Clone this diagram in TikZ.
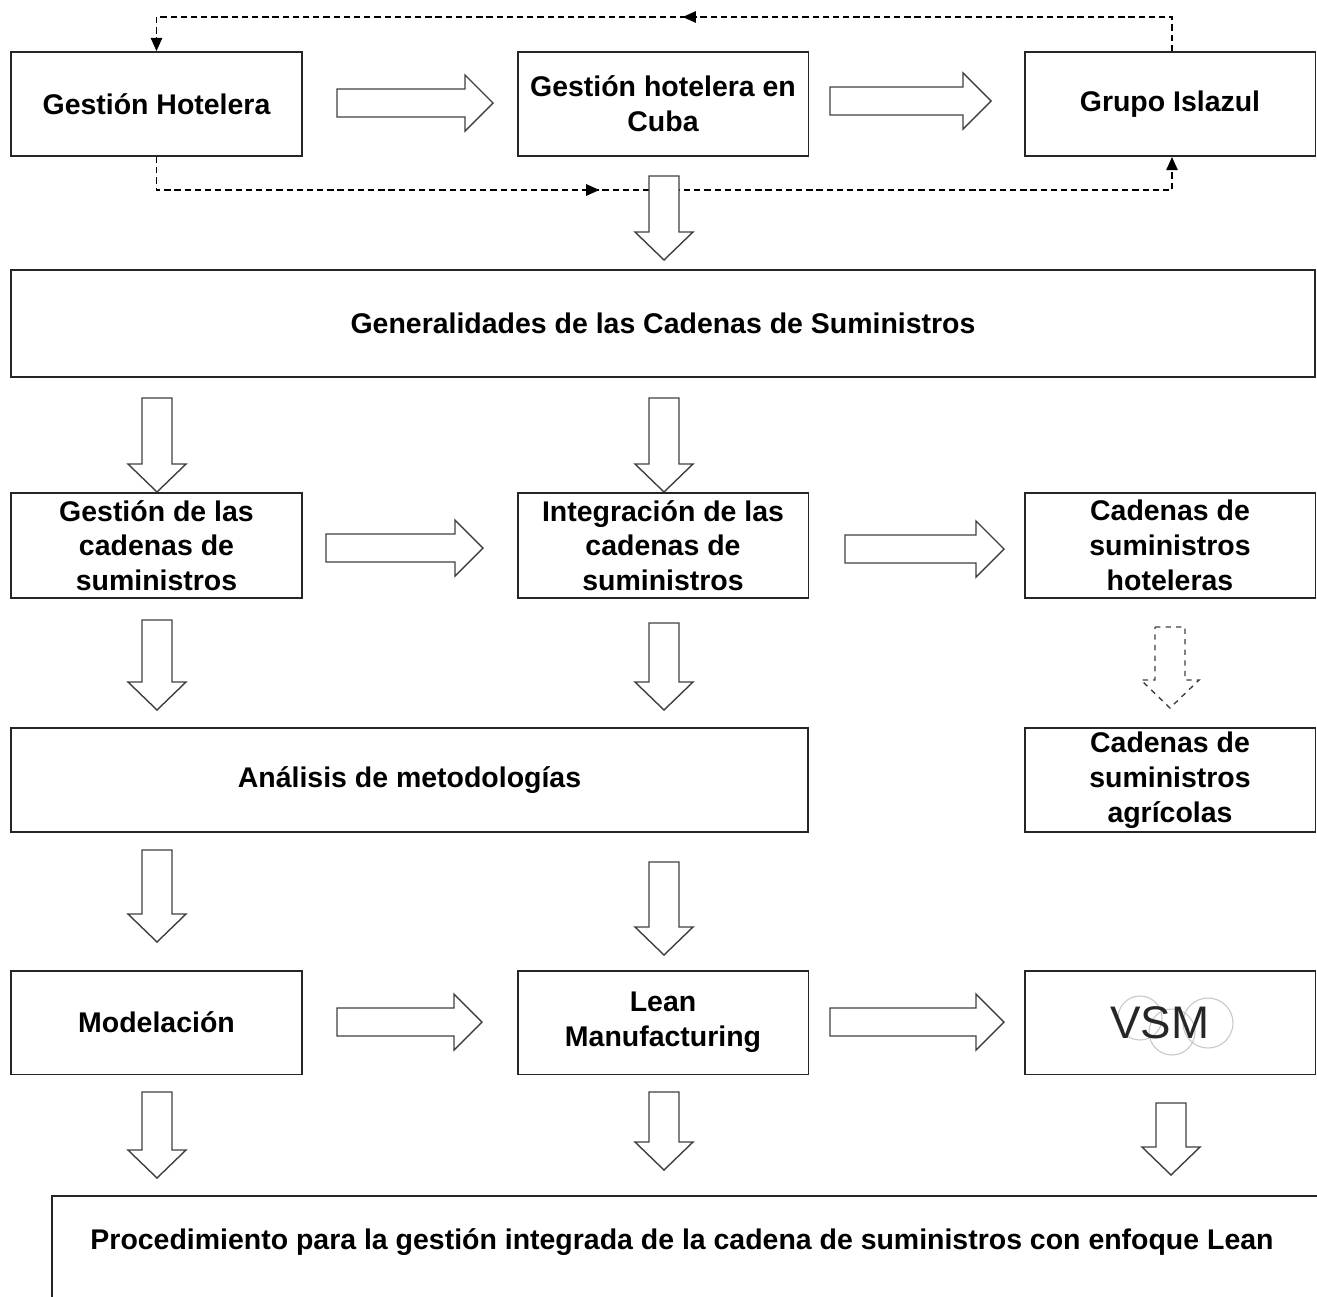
\documentclass[tikz,border=0pt]{standalone}
\usepackage{fontspec}
\setmainfont{Liberation Sans}
\usetikzlibrary{arrows.meta,decorations.markings}

% hollow block arrows, coordinates in px
\newcommand\harr[3]{% x start, x tip, y centre
  \draw[blockarrow] (#1,#3-14) -- (#2-28,#3-14) -- (#2-28,#3-28) -- (#2,#3)
    -- (#2-28,#3+28) -- (#2-28,#3+14) -- (#1,#3+14) -- cycle;}
\newcommand\varr[4][]{% x centre, y start, y tip
  \draw[blockarrow,#1] (#2-15,#3) -- (#2+15,#3) -- (#2+15,#4-28) -- (#2+29,#4-28)
    -- (#2,#4) -- (#2-29,#4-28) -- (#2-15,#4-28) -- cycle;}

\begin{document}
\begin{tikzpicture}[x=0.02cm,y=-0.02cm,
  box/.style={draw=black!85,line width=1.1pt,fill=white,inner sep=0pt,
    font=\fontsize{16.2}{19.8}\selectfont\bfseries,align=center},
  colbox/.style={box,minimum width=5.82cm,minimum height=2.08cm},
  blockarrow/.style={draw=black!75,line width=0.8pt,fill=white,line join=miter},
  loopline/.style={draw=black,line width=0.8pt,dash pattern=on 3.6pt off 2.2pt},
  tip/.style={-{Triangle[length=7.5pt,width=6.5pt]}},
  midtip/.style={postaction={decorate,decoration={markings,
    mark=at position #1 with {\arrow{Triangle[length=7.5pt,width=6.5pt]}}}}},
  vsmring/.style={draw=black!22,line width=0.6pt}]
\useasboundingbox (0,0) rectangle (1317,1296);

% first row
\node[colbox] (gh)  at (156.5,104) {Gestión Hotelera};
\node[colbox] (ghc) at (663,104)   {Gestión hotelera en\\Cuba};
\node[colbox] (gi)  at (1170,104)  {Grupo Islazul};

% dashed feedback loops between the first row boxes
\coordinate (t1) at (1172,17);
\coordinate (t2) at (156.5,17);
\coordinate (b1) at (156.5,190);
\coordinate (b2) at (1172,190);
\draw[loopline,tip,midtip=0.483] (gi.north -| t1) -- (t1) -- (t2) -- (gh.north);
\draw[loopline,tip,midtip=0.44] (gh.south) -- (b1) -- (b2) -- (gi.south -| b2);

\harr{337}{493}{103}
\harr{830}{991}{101}
\varr{664}{176}{260}

% second row
\node[box,minimum width=26.08cm,minimum height=2.14cm] (gen) at (663,323.5)
  {Generalidades de las Cadenas de Suministros};

\varr{157}{398}{492}
\varr{664}{398}{492}

% third row
\node[colbox,minimum height=2.1cm] (gcs) at (156.5,545.5) {Gestión de las\\cadenas de\\suministros};
\node[colbox,minimum height=2.1cm] (ics) at (663,545.5)   {Integración de las\\cadenas de\\suministros};
\node[colbox,minimum height=2.1cm] (csh) at (1170,545.5)  {Cadenas de\\suministros\\hoteleras};

\harr{326}{483}{548}
\harr{845}{1004}{549}

\varr{157}{620}{710}
\varr{664}{623}{710}
\varr[dashed]{1170}{627}{708}

% fourth row
\node[box,minimum width=15.94cm,minimum height=2.08cm] (am) at (409.5,780)
  {Análisis de metodologías};
\node[colbox] (csa) at (1170,780) {Cadenas de\\suministros\\agrícolas};

\varr{157}{850}{942}
\varr{664}{862}{955}

% fifth row
\node[colbox] (mod)  at (156.5,1022.5) {Modelación};
\node[colbox] (lean) at (663,1022.5)   {Lean\\Manufacturing};
\node[colbox] (vsm)  at (1170,1022.5)  {};
\draw[vsmring] (1140,1018) circle[radius=0.44cm];
\draw[vsmring] (1172,1032) circle[radius=0.46cm];
\draw[vsmring] (1208,1023) circle[radius=0.5cm];
\node[font=\fontsize{26}{30}\selectfont,text=black!85] (vsmtext) at (1160,1023) {VSM};

\harr{337}{482}{1022}
\harr{830}{1004}{1022}

\varr{157}{1092}{1178}
\varr{664}{1092}{1170}
\varr{1171}{1103}{1175}

% final box, running past the lower and right edges
\node[box,minimum width=25.5cm,minimum height=2.48cm] (proc) at (689,1258) {};
\node[font=\fontsize{16.2}{19.8}\selectfont\bfseries] (proctext) at (682,1242)
  {Procedimiento para la gestión integrada de la cadena de suministros con enfoque Lean};
\end{tikzpicture}
\end{document}
